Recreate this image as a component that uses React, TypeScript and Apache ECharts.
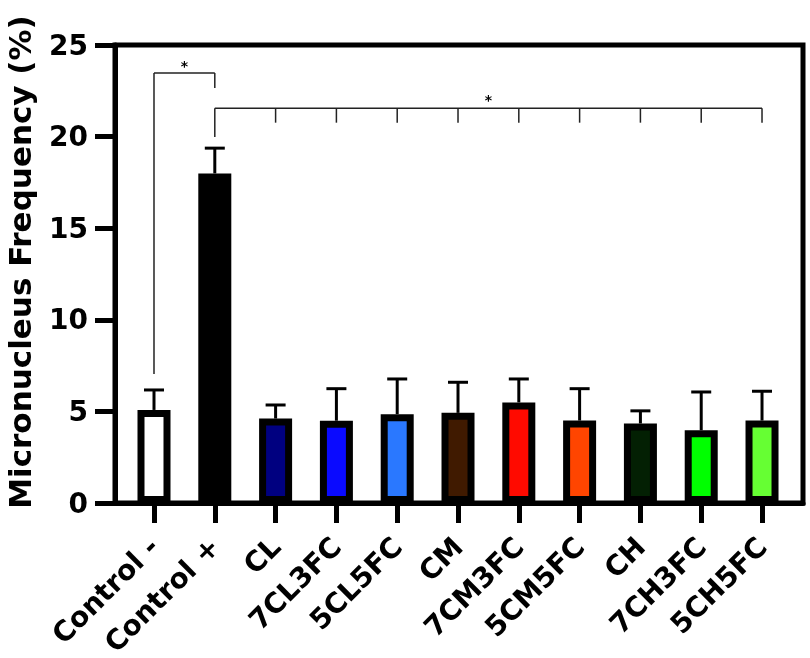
import React, { useEffect, useRef } from "react";
import * as echarts from "echarts";

const categories = ["Control -", "Control +", "CL", "7CL3FC", "5CL5FC", "CM", "7CM3FC", "5CM5FC", "CH", "7CH3FC", "5CH5FC"];
const means = [5.08, 17.99, 4.61, 4.49, 4.85, 4.92, 5.49, 4.5, 4.34, 3.97, 4.5];
const upper = [6.17, 19.37, 5.35, 6.24, 6.77, 6.59, 6.77, 6.24, 5.03, 6.06, 6.1];
const colors = ["#ffffff", "#000000", "#000080", "#0a0aff", "#2a78ff", "#401a00", "#ff0a00", "#ff4500", "#032003", "#00ff00", "#66ff33"];
const yTicks = [0, 5, 10, 15, 20, 25];

// significance brackets: segments [x1, y1, x2, y2]
const bracketA = [
  [0, 7.04, 0, 23.47],
  [0, 23.47, 1, 23.47],
  [1, 23.47, 1, 22.65],
];
const bracketBLevel = 21.55;
const bracketBStart = 19.98;
const bracketBTick = 20.76;
const bracketBTargets = [2, 3, 4, 5, 6, 7, 8, 9, 10];
const stars = [
  [0.5, 24.03],
  [5.5, 22.16],
];

export default function App() {
  const ref = useRef<HTMLDivElement>(null);
  useEffect(() => {
    if (!ref.current) return;
    const chart = echarts.init(ref.current, null, { renderer: "svg" });
    const font = "DejaVu Sans";
    const bracketSegs: number[][] = [...bracketA];
    bracketSegs.push([1, bracketBStart, 1, bracketBLevel]);
    bracketSegs.push([1, bracketBLevel, bracketBTargets[bracketBTargets.length - 1], bracketBLevel]);
    bracketBTargets.forEach((t) => bracketSegs.push([t, bracketBLevel, t, bracketBTick]));

    chart.setOption({
      animation: false,
      grid: {
        left: 115,
        right: 7,
        top: 45,
        bottom: 155,
        show: true,
        borderColor: "#000",
        borderWidth: 5,
        containLabel: false,
        outerBoundsMode: "none",
      },
      xAxis: {
        type: "value",
        min: -0.6414,
        max: 10.674,
        splitLine: { show: false },
        axisLine: { show: true, onZero: false, lineStyle: { color: "#000", width: 5 } },
        axisTick: { show: true, customValues: categories.map((_, i) => i), length: 20, lineStyle: { color: "#000", width: 5 } },
        axisLabel: {
          customValues: categories.map((_, i) => i),
          formatter: (v: number) => categories[Math.round(v)] ?? "",
          rotate: 45,
          margin: 39,
          fontFamily: font,
          fontWeight: "bold",
          fontSize: 28,
          lineHeight: 26,
          color: "#000",
        },
      },
      yAxis: {
        type: "value",
        min: 0,
        max: 25,
        interval: 5,
        splitLine: { show: false },
        axisLine: { show: true, onZero: false, lineStyle: { color: "#000", width: 5 } },
        axisTick: { show: true, length: 20, lineStyle: { color: "#000", width: 5 } },
        axisLabel: {
          margin: 27,
          fontFamily: font,
          fontWeight: "bold",
          fontSize: 28,
          color: "#000",
          formatter: (v: number) => (yTicks.includes(v) ? String(v) : ""),
        },
        name: "Micronucleus Frequency (%)",
        nameLocation: "middle",
        nameGap: 80,
        nameTextStyle: { fontFamily: font, fontWeight: "bold", fontSize: 31, lineHeight: 31, color: "#000", padding: [0, 0, 0, 24] },
      },
      series: [
        {
          type: "bar",
          barWidth: 33,
          data: means.map((m, i) => ({
            value: [i, m],
            itemStyle: { color: colors[i], borderColor: "#000", borderWidth: 7 },
          })),
          z: 2,
        },
        {
          type: "custom",
          z: 3,
          data: means.map((m, i) => [i, m, upper[i]]),
          renderItem: (params: any, api: any) => {
            const base = api.coord([api.value(0), api.value(1)]);
            const top = api.coord([api.value(0), api.value(2)]);
            return {
              type: "group",
              children: [
                { type: "line", shape: { x1: base[0], y1: base[1], x2: top[0], y2: top[1] }, style: { stroke: "#000", lineWidth: 3 } },
                { type: "line", shape: { x1: top[0] - 10, y1: top[1], x2: top[0] + 10, y2: top[1] }, style: { stroke: "#000", lineWidth: 3 } },
              ],
            };
          },
        },
        {
          type: "custom",
          z: 4,
          data: bracketSegs,
          renderItem: (params: any, api: any) => {
            const a = api.coord([api.value(0), api.value(1)]);
            const b = api.coord([api.value(2), api.value(3)]);
            return { type: "line", shape: { x1: a[0], y1: a[1], x2: b[0], y2: b[1] }, style: { stroke: "#222", lineWidth: 1.5 } };
          },
        },
        {
          type: "custom",
          z: 4,
          data: stars,
          renderItem: (params: any, api: any) => {
            const p = api.coord([api.value(0), api.value(1)]);
            return {
              type: "text",
              x: p[0],
              y: p[1] + 3,
              style: { text: "*", fontSize: 14, fontWeight: "bold", fontFamily: font, fill: "#000", align: "center", verticalAlign: "middle" },
            };
          },
        },
      ],
    });
    return () => chart.dispose();
  }, []);
  return <div ref={ref} style={{ position: "fixed", left: 0, top: 0, width: 810, height: 658 }} />;
}
